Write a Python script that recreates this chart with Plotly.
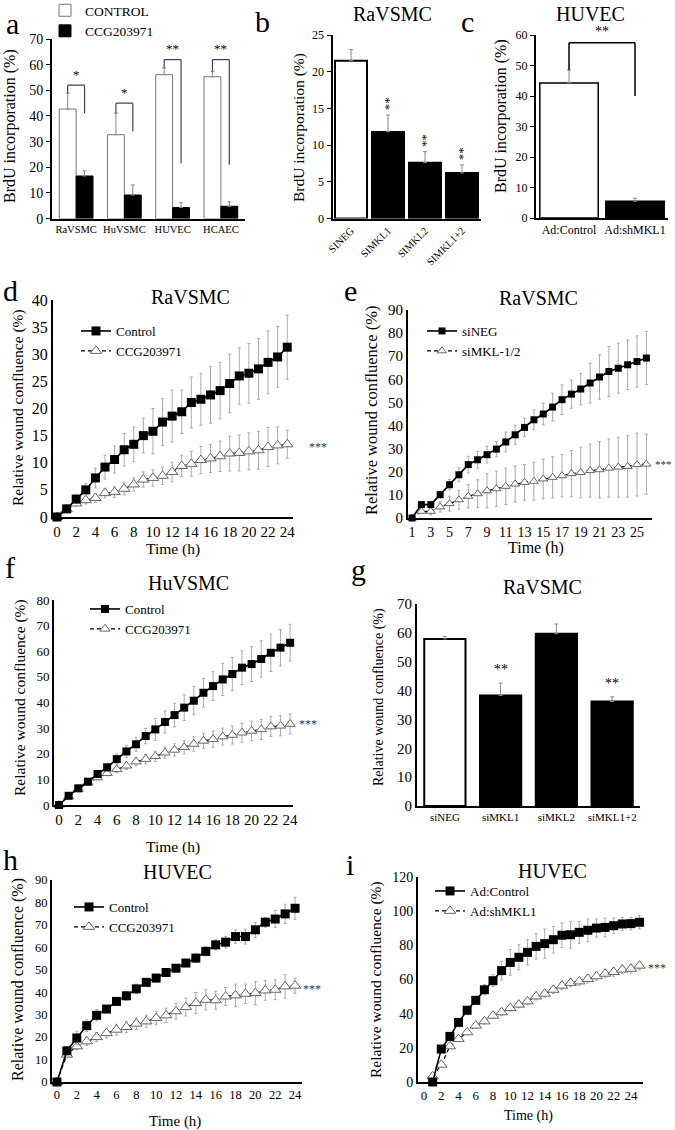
import plotly.graph_objects as go

W, H = 675, 1130
FONT = "Liberation Serif"

# ---------------- data ----------------
a_cats = ["RaVSMC", "HuVSMC", "HUVEC", "HCAEC"]
a_control = [42.7, 32.7, 56.1, 55.3]
a_control_err = [6.2, 8.4, 2.6, 2.0]
a_ccg = [16.6, 9.2, 4.3, 4.8]
a_ccg_err = [2.0, 3.9, 1.9, 1.7]
a_sig = ["*", "*", "**", "**"]
a_bracket_top = [52, 45, 62, 62]
a_bracket_low = [41, 34, 21.6, 21]

b_cats = ["SINEG", "SIMKL1", "SIMKL2", "SIMKL1+2"]
b_vals = [21.5, 11.8, 7.6, 6.2]
b_err = [1.5, 2.3, 1.5, 1.1]
b_sig = ["", "**", "**", "**"]

c_cats = ["Ad:Control", "Ad:shMKL1"]
c_vals = [44.3, 5.5]
c_err = [4.2, 1.0]
c_bracket_top = 57.5
c_bracket_low = 40.0

d_hours = list(range(0, 25))
d_control = [0, 1.5, 3.3, 5.0, 7.2, 9.2, 10.6, 12.4, 13.4, 15.0, 15.8, 17.5, 18.6, 19.4,
             21.1, 21.7, 22.5, 23.3, 24.6, 26.0, 26.5, 27.3, 28.5, 29.5, 31.3]
d_control_err = [0, 0.3, 0.8, 1.2, 1.8, 2.2, 2.5, 3.0, 3.2, 3.2, 4.2, 4.3, 4.8, 4.0, 4.7,
                 4.8, 5.2, 5.2, 5.4, 5.2, 5.5, 5.6, 5.8, 5.6, 5.9]
d_ccg = [0, 1.4, 2.5, 3.1, 3.5, 4.4, 4.6, 5.2, 6.0, 6.9, 7.2, 7.6, 8.3, 9.4, 9.8, 10.5,
         10.8, 11.2, 11.7, 11.8, 12.1, 12.3, 12.9, 13.2, 13.4]
d_ccg_err = [0, 0.3, 0.5, 0.7, 0.8, 0.9, 1.0, 1.1, 1.2, 1.4, 1.5, 1.6, 1.8, 2.0, 2.3, 2.5,
             2.6, 2.8, 3.2, 3.3, 3.4, 3.5, 3.6, 3.4, 2.6]

e_hours = list(range(1, 27))
e_sineg = [0, 5.8, 5.8, 10.1, 14.4, 18.7, 23.1, 25.2, 27.4, 29.8, 32.9, 36.0, 39.2, 42.5,
           45.0, 48.0, 51.2, 53.6, 55.8, 58.4, 61.0, 63.4, 64.8, 66.3, 67.7, 69.2]
e_sineg_err = [0, 0.8, 1.0, 1.5, 2.2, 3.0, 3.6, 3.6, 3.6, 3.3, 4.3, 4.1, 4.0, 4.3, 4.7,
               6.0, 6.4, 6.1, 6.8, 8.6, 9.6, 10.8, 10.8, 10.7, 11.1, 11.5]
e_simkl = [0, 2.9, 2.9, 4.8, 6.2, 7.9, 9.4, 10.5, 11.8, 12.7, 13.7, 14.7, 15.4, 15.9,
           16.9, 17.6, 18.3, 19.2, 19.7, 20.5, 20.9, 21.6, 22.0, 22.3, 23.1, 23.3]
e_simkl_err = [0, 1.0, 1.5, 2.2, 3.2, 4.0, 5.0, 6.0, 7.4, 7.6, 7.9, 7.8, 7.7, 8.2, 8.6,
               8.9, 9.1, 10.0, 11.0, 11.5, 12.2, 12.6, 13.0, 13.3, 13.6, 13.0]

f_hours = list(range(0, 25))
f_control = [0, 3.6, 6.5, 9.1, 12.1, 14.7, 17.9, 20.9, 23.7, 26.9, 29.5, 32.4, 35.1, 38.0,
             40.7, 43.8, 46.4, 49.0, 51.1, 53.6, 55.0, 57.0, 59.4, 61.4, 63.3]
f_control_err = [0, 0.5, 0.7, 1.0, 1.2, 1.5, 2.0, 2.3, 2.7, 3.0, 4.3, 4.3, 4.6, 5.0, 5.5,
                 5.6, 5.6, 6.3, 6.5, 6.6, 6.8, 7.1, 7.3, 7.1, 7.2]
f_ccg = [0, 3.3, 6.2, 8.7, 10.7, 12.4, 13.9, 15.3, 16.9, 17.9, 19.0, 20.4, 21.5, 22.5,
         23.8, 25.0, 25.7, 26.7, 27.3, 28.2, 28.9, 29.5, 30.6, 30.9, 31.6]
f_ccg_err = [0, 0.4, 0.6, 0.8, 0.9, 1.0, 1.2, 1.4, 1.6, 1.8, 2.0, 2.2, 2.4, 2.6, 2.8, 3.0,
             3.2, 3.3, 3.5, 3.7, 3.8, 3.9, 3.9, 3.9, 3.9]

g_cats = ["siNEG", "siMKL1", "siMKL2", "siMKL1+2"]
g_vals = [57.9, 38.3, 59.7, 36.2]
g_err = [0.9, 4.3, 3.4, 1.6]
g_sig = ["", "**", "", "**"]

h_hours = list(range(0, 25))
h_control = [0, 13.9, 19.6, 25.1, 29.7, 32.5, 35.9, 38.4, 41.5, 44.4, 46.3, 48.8, 50.7,
             53.0, 55.2, 58.2, 61.1, 62.3, 64.8, 64.8, 67.8, 71.2, 72.6, 74.9, 77.4]
h_control_err = [0, 1.5, 3.0, 2.6, 2.5, 1.6, 1.8, 1.9, 2.1, 1.8, 1.7, 1.5, 1.5, 1.6, 1.9,
                 2.0, 2.3, 2.6, 3.0, 3.3, 3.3, 2.2, 3.8, 4.3, 4.9]
h_ccg = [0, 12.2, 15.9, 18.1, 20.0, 21.8, 23.3, 24.5, 26.0, 27.0, 28.5, 29.7, 31.5, 33.4,
         35.2, 36.6, 36.4, 38.1, 38.6, 39.3, 39.6, 40.8, 41.1, 42.6, 42.9]
h_ccg_err = [0, 1.0, 1.5, 1.8, 2.0, 2.2, 2.4, 2.5, 2.6, 2.8, 3.0, 3.2, 3.5, 4.0, 4.7, 4.5,
             4.0, 4.0, 5.0, 4.3, 5.2, 4.4, 4.4, 5.2, 3.4]

i_hours = list(range(1, 26))
i_control = [0, 19.3, 26.7, 34.9, 42.0, 47.8, 54.0, 59.3, 65.2, 70.0, 73.0, 75.9, 79.4,
             81.0, 83.3, 85.9, 86.2, 87.6, 88.8, 90.1, 90.5, 91.5, 92.5, 92.7, 93.5]
i_control_err = [0, 1.0, 1.5, 2.0, 2.0, 2.3, 3.0, 3.5, 5.5, 7.5, 7.4, 7.4, 7.4, 8.6, 7.8,
                 7.2, 7.8, 6.4, 6.6, 5.3, 5.5, 4.5, 3.9, 3.7, 3.9]
i_sh = [3.3, 10.1, 20.9, 25.2, 29.1, 33.0, 35.5, 38.8, 40.8, 43.3, 45.3, 47.2, 50.1, 51.7,
        54.0, 56.4, 58.0, 58.9, 60.3, 61.9, 63.4, 64.4, 65.8, 66.3, 68.1]
i_sh_err = [0.5, 1.0, 1.2, 1.3, 1.3, 1.4, 1.5, 1.6, 1.7, 1.8, 1.9, 2.0, 2.0, 2.1, 2.2, 2.2,
            2.3, 2.3, 2.4, 2.4, 2.4, 2.5, 2.5, 2.5, 2.5]

# ---------------- helpers ----------------
fig = go.Figure()
layout = dict(width=W, height=H, margin=dict(l=0, r=0, t=0, b=0, pad=0, autoexpand=False),
              paper_bgcolor="white", plot_bgcolor="white", showlegend=True,
              font=dict(family=FONT, color="black"))
annotations = []
shapes = []


def sfx(n):
    return "" if n == 1 else str(n)


def set_axes(n, xpx, ypx, xr, yr, ydtick, xfont, yfont, xtickvals=None, cat=False,
             xangle=0, yticks="", ylen=0):
    s = sfx(n)
    xa = dict(domain=[xpx[0] / W, xpx[1] / W], range=xr, anchor="y" + s,
              showline=True, linecolor="black", linewidth=2, showgrid=False,
              zeroline=False, ticks="", fixedrange=True, automargin=False,
              tickfont=dict(family=FONT, size=xfont, color="black"), tickangle=xangle)
    if cat:
        xa["type"] = "category"
    else:
        xa["tickmode"] = "array"
        xa["tickvals"] = xtickvals
    ya = dict(domain=[1 - ypx[1] / H, 1 - ypx[0] / H], range=yr, anchor="x" + s,
              showline=True, linecolor="black", linewidth=2, showgrid=False,
              zeroline=False, ticks=yticks, ticklen=ylen, tickcolor="black",
              tick0=0, dtick=ydtick, fixedrange=True, automargin=False,
              tickfont=dict(family=FONT, size=yfont, color="black"))
    layout["xaxis" + s] = xa
    layout["yaxis" + s] = ya


def ann(text, x, y, size, angle=0, xanchor="center", yanchor="middle", color="black"):
    annotations.append(dict(text=text, x=x / W, y=1 - y / H, xref="paper", yref="paper",
                            showarrow=False, textangle=angle, xanchor=xanchor,
                            yanchor=yanchor, font=dict(family=FONT, size=size, color=color)))


def line_pair(n, hours, v1, e1, v2, e2, n1, n2, leg, msize=8):
    s = sfx(n)
    fig.add_trace(go.Scatter(
        x=hours, y=v2, name=n2, mode="lines+markers", xaxis="x" + s, yaxis="y" + s,
        cliponaxis=False, legend=leg, legendrank=2,
        line=dict(color="black", width=1.2, dash="4px,3px"),
        marker=dict(symbol="triangle-up", size=msize + 1, color="white",
                    line=dict(color="#666", width=1)),
        error_y=dict(type="data", array=e2, color="#aaa", thickness=1, width=1.5)))
    fig.add_trace(go.Scatter(
        x=hours, y=v1, name=n1, mode="lines+markers", xaxis="x" + s, yaxis="y" + s,
        cliponaxis=False, legend=leg, legendrank=1,
        line=dict(color="black", width=1.6),
        marker=dict(symbol="square", size=msize, color="black"),
        error_y=dict(type="data", array=e1, color="#aaa", thickness=1, width=1.5)))


def legend_cfg(text_x, row1_y, size=13, dx=45):
    return dict(x=(text_x - dx) / W, y=1 - (row1_y - 16) / H, xanchor="left", yanchor="top",
                bgcolor="rgba(0,0,0,0)", font=dict(family=FONT, size=size, color="black"),
                tracegroupgap=0, itemwidth=30)


# ---------------- panel a ----------------
set_axes(1, (52, 245), (39, 218.6), [-0.5, 3.5], [0, 70], 10, 10.5, 14, cat=True,
         yticks="outside", ylen=4)
fig.add_trace(go.Bar(x=a_cats, y=a_control, name="CONTROL", xaxis="x", yaxis="y",
                     width=0.35, offset=-0.35, legend="legend6",
                     marker=dict(color="white", line=dict(color="#777", width=1)),
                     error_y=dict(type="data", array=a_control_err, arrayminus=[0] * 4,
                                  symmetric=False, color="#888", thickness=1, width=2)))
fig.add_trace(go.Bar(x=a_cats, y=a_ccg, name="CCG203971", xaxis="x", yaxis="y",
                     width=0.35, offset=0, legend="legend6",
                     marker=dict(color="black", line=dict(color="black", width=1)),
                     error_y=dict(type="data", array=a_ccg_err, arrayminus=[0] * 4,
                                  symmetric=False, color="#888", thickness=1, width=2)))
for k in range(len(a_cats)):
    xl, xr_ = k - 0.175, k + 0.175
    top = a_bracket_top[k]
    for (x0, y0, x1, y1) in [(xl, a_control[k] + a_control_err[k], xl, top),
                             (xl, top, xr_, top), (xr_, top, xr_, a_bracket_low[k])]:
        shapes.append(dict(type="line", xref="x", yref="y", x0=x0, y0=y0, x1=x1, y1=y1,
                           line=dict(color="#444", width=1.2)))
    annotations.append(dict(text=a_sig[k], x=k, y=top + 0.5, xref="x", yref="y",
                            showarrow=False, yanchor="bottom",
                            font=dict(family=FONT, size=13, color="black")))
layout["legend6"] = legend_cfg(72, 11, 13.5, dx=27)
ann("a", 12, 24, 30)
ann("BrdU incorporation (%)", 10, 126, 16, angle=-90)

# ---------------- panel b ----------------
set_axes(2, (332.5, 480.5), (35, 218.5), [-0.5, 3.5], [0, 25], 5, 10.5, 12, cat=True,
         xangle=-45, yticks="outside", ylen=4)
fig.add_trace(go.Bar(x=b_cats, y=b_vals, xaxis="x2", yaxis="y2", width=0.865,
                     showlegend=False,
                     marker=dict(color=["white", "black", "black", "black"],
                                 line=dict(color="black", width=2)),
                     error_y=dict(type="data", array=b_err, arrayminus=[0] * 4,
                                  symmetric=False, color="#888", thickness=1, width=2)))
for k in range(len(b_cats)):
    if b_sig[k]:
        annotations.append(dict(text=b_sig[k], x=k, y=b_vals[k] + b_err[k] + 0.3,
                                xref="x2", yref="y2", showarrow=False, yanchor="bottom",
                                textangle=-90,
                                font=dict(family=FONT, size=13, color="black")))
ann("b", 262, 21, 30)
ann("RaVSMC", 392, 14, 20)
ann("BrdU incorporation (%)", 299, 128, 15.5, angle=-90)

# ---------------- panel c ----------------
set_axes(3, (536, 668), (35, 218), [-0.5, 1.5], [0, 60], 10, 12, 12, cat=True,
         yticks="outside", ylen=4)
fig.add_trace(go.Bar(x=c_cats, y=c_vals, xaxis="x3", yaxis="y3", width=0.885,
                     showlegend=False,
                     marker=dict(color=["white", "black"], line=dict(color="black", width=1.5)),
                     error_y=dict(type="data", array=c_err, arrayminus=[0] * 2,
                                  symmetric=False, color="#888", thickness=1, width=2)))
for (x0, y0, x1, y1) in [(0, c_vals[0] + c_err[0], 0, c_bracket_top),
                         (0, c_bracket_top, 1, c_bracket_top),
                         (1, c_bracket_top, 1, c_bracket_low)]:
    shapes.append(dict(type="line", xref="x3", yref="y3", x0=x0, y0=y0, x1=x1, y1=y1,
                       line=dict(color="black", width=1.5)))
annotations.append(dict(text="**", x=0.5, y=c_bracket_top + 0.5, xref="x3", yref="y3",
                        showarrow=False, yanchor="bottom",
                        font=dict(family=FONT, size=14, color="black")))
ann("c", 467, 21, 30)
ann("HUVEC", 590, 14, 20)
ann("BrdU incorporation (%)", 501, 116, 16, angle=-90)

# ---------------- panel d ----------------
set_axes(4, (53, 293), (300, 517), [-0.42, 24.6], [0, 40], 5, 15, 16,
         xtickvals=list(range(0, 25, 2)))
line_pair(4, d_hours, d_control, d_control_err, d_ccg, d_ccg_err, "Control", "CCG203971",
          "legend", 9)
layout["legend"] = legend_cfg(121, 332)
ann("d", 10, 291, 30)
ann("RaVSMC", 190, 297, 20)
ann("Relative wound confluence (%)", 18, 408, 15.5, angle=-90)
ann("Time (h)", 173, 549, 15.5)
ann("***", 318, 447, 12, color="#333")

# ---------------- panel e ----------------
set_axes(5, (408, 652), (310, 518), [0.57, 26.6], [0, 90], 10, 14, 15,
         xtickvals=list(range(1, 26, 2)))
line_pair(5, e_hours, e_sineg, e_sineg_err, e_simkl, e_simkl_err, "siNEG", "siMKL-1/2",
          "legend2", 7)
layout["legend2"] = legend_cfg(467, 332)
ann("e", 350, 291, 30)
ann("RaVSMC", 538, 298, 20)
ann("Relative wound confluence (%)", 371, 410, 16.5, angle=-90)
ann("Time (h)", 536, 548, 16)
ann("***", 674, 464, 11, xanchor="right", color="#333")

# ---------------- panel f ----------------
set_axes(6, (54, 293), (600, 805), [-0.52, 24.3], [0, 80], 10, 15, 13,
         xtickvals=list(range(0, 25, 2)))
line_pair(6, f_hours, f_control, f_control_err, f_ccg, f_ccg_err, "Control", "CCG203971",
          "legend3", 8)
layout["legend3"] = legend_cfg(130, 610)
ann("f", 10, 567, 30)
ann("HuVSMC", 188, 583, 20)
ann("Relative wound confluence (%)", 20, 698, 15.5, angle=-90)
ann("Time (h)", 173, 847, 15.5)
ann("***", 308, 724, 12, color="#333")

# ---------------- panel g ----------------
set_axes(7, (417, 640), (604, 806), [-0.5, 3.5], [0, 70], 10, 11, 15, cat=True)
fig.add_trace(go.Bar(x=g_cats, y=g_vals, xaxis="x7", yaxis="y7", width=0.74,
                     showlegend=False,
                     marker=dict(color=["white", "black", "black", "black"],
                                 line=dict(color="black", width=2)),
                     error_y=dict(type="data", array=g_err, arrayminus=[0] * 4,
                                  symmetric=False, color="#888", thickness=1, width=2)))
for k in range(len(g_cats)):
    if g_sig[k]:
        annotations.append(dict(text=g_sig[k], x=k, y=g_vals[k] + g_err[k] + 1.5,
                                xref="x7", yref="y7", showarrow=False, yanchor="bottom",
                                font=dict(family=FONT, size=14, color="black")))
ann("g", 358, 569, 30)
ann("RaVSMC", 542, 587, 20)
ann("Relative wound confluence (%)", 379, 697, 14, angle=-90)

# ---------------- panel h ----------------
set_axes(8, (52, 302), (880, 1082), [-0.5, 24.7], [0, 90], 10, 12.5, 12.5,
         xtickvals=list(range(0, 25, 2)))
line_pair(8, h_hours, h_control, h_control_err, h_ccg, h_ccg_err, "Control", "CCG203971",
          "legend4", 9)
layout["legend4"] = legend_cfg(114, 908)
ann("h", 10, 859, 30)
ann("HUVEC", 177, 872, 20)
ann("Relative wound confluence (%)", 18, 980, 16, angle=-90)
ann("Time (h)", 175, 1121, 15)
ann("***", 312, 989, 12, color="#333")

# ---------------- panel i ----------------
set_axes(9, (418, 643), (877, 1082), [-0.7, 25.4], [0, 120], 20, 13, 14,
         xtickvals=list(range(0, 25, 2)))
line_pair(9, i_hours, i_control, i_control_err, i_sh, i_sh_err, "Ad:Control", "Ad:shMKL1",
          "legend5", 9)
layout["legend5"] = legend_cfg(475, 892)
ann("i", 350, 864, 30)
ann("HUVEC", 552, 871, 20)
ann("Relative wound confluence (%)", 376, 980, 15.5, angle=-90)
ann("Time (h)", 528, 1116, 14)
ann("***", 657, 968, 12, color="#333")

layout["annotations"] = annotations
layout["shapes"] = shapes
layout["barmode"] = "group"
fig.update_layout(**layout)
fig.write_html("out.html", config={"displayModeBar": False, "staticPlot": True},
               post_script="document.body.style.margin='0px';")
